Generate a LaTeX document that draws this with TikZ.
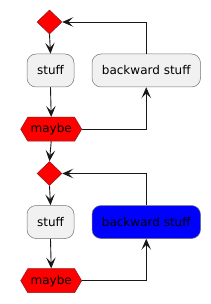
\documentclass[tikz,border=0pt]{standalone}
\usepackage{fontspec}
\setmainfont{DejaVu Sans}
\usetikzlibrary{arrows.meta,shapes.geometric,shapes.symbols}
\definecolor{boxfill}{HTML}{F1F1F1}
\definecolor{edge}{HTML}{181818}
\definecolor{redborder}{HTML}{8B1A1A}
\tikzset{
  act/.style={draw=edge!60, line width=0.5pt, fill=boxfill, rounded corners=9pt, minimum height=33pt, inner sep=0pt, font=\fontsize{12}{14}\selectfont},
  dmd/.style={diamond, draw=redborder, line width=0.5pt, fill=red, minimum width=25pt, minimum height=24pt, inner sep=0pt},
  hexa/.style={signal, signal to=east and west, signal pointer angle=119, draw=redborder, line width=0.5pt, fill=red, minimum width=61pt, minimum height=24pt, inner sep=0pt, font=\fontsize{12}{14}\selectfont},
  flow/.style={draw=edge, line width=0.9pt, -{Stealth[length=11pt,width=9.5pt,inset=5pt]}}
}
\begin{document}
\begin{tikzpicture}[x=1pt,y=-1pt]
\useasboundingbox (0,0) rectangle (210,304);
% first loop
\node[dmd] (d1) at (49.5,22) {};
\node[act, minimum width=47pt] (s1) at (50.5,70.5) {stuff};
\node[act, minimum width=108.5pt] (b1) at (146.25,70.5) {backward stuff};
\node[hexa] (m1) at (51.2,129.2) {maybe};
% second loop
\node[dmd] (d2) at (49.5,173.5) {};
\node[act, minimum width=47pt] (s2) at (50.5,222) {stuff};
\node[act, minimum width=108.5pt, fill=blue] (b2) at (146.25,222) {backward stuff};
\node[hexa] (m2) at (51.2,280.7) {maybe};
% connectors
\draw[flow] (d1.south) -- (s1.north);
\draw[flow] (s1.south) -- (m1.north);
\draw[flow] (m1.east) -| (b1.south);
\draw[flow] (b1.north) |- (d1.east);
\draw[flow] (m1.south) -- (d2.north);
\draw[flow] (d2.south) -- (s2.north);
\draw[flow] (s2.south) -- (m2.north);
\draw[flow] (m2.east) -| (b2.south);
\draw[flow] (b2.north) |- (d2.east);
\end{tikzpicture}
\end{document}
